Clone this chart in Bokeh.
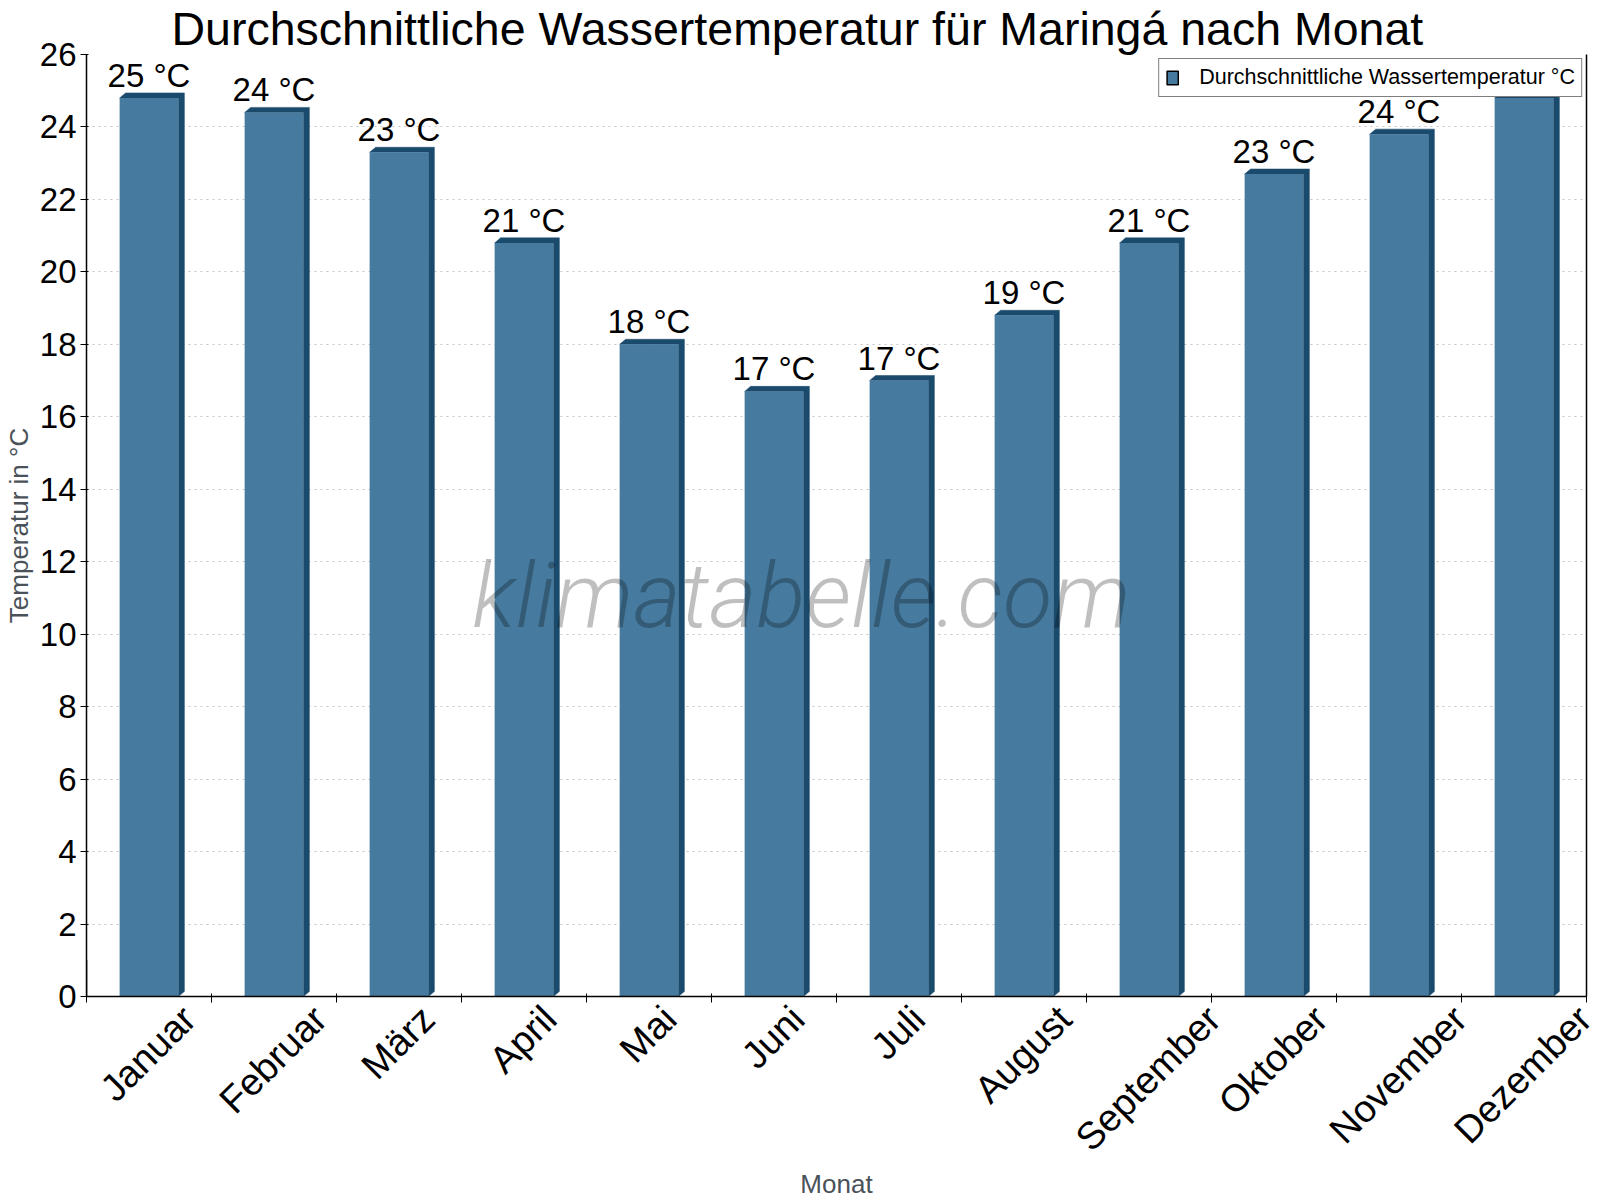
import math
import numpy as np
from bokeh.plotting import figure
from bokeh.models import Range1d, FixedTicker, LinearAxis, Legend, LegendItem, Label
from bokeh.core.properties import value
from bokeh.embed import file_html
from bokeh.resources import INLINE

# ---------------- data ----------------
months = ["Januar", "Februar", "März", "April", "Mai", "Juni",
          "Juli", "August", "September", "Oktober", "November", "Dezember"]
water_temp = [24.8, 24.4, 23.3, 20.8, 18.0, 16.7, 17.0, 18.8, 20.8, 22.7, 23.8, 24.8]
value_labels = ["25 °C", "24 °C", "23 °C", "21 °C", "18 °C", "17 °C",
                "17 °C", "19 °C", "21 °C", "23 °C", "24 °C", "25 °C"]
y_ticks = [0, 2, 4, 6, 8, 10, 12, 14, 16, 18, 20, 22, 24, 26]
y_max = 26
title_text = "Durchschnittliche Wassertemperatur für Maringá nach Monat"
series_name = "Durchschnittliche Wassertemperatur °C"
y_label = "Temperatur in °C"
x_label = "Monat"
watermark = "klimatabelle.com"

# ---------------- style ----------------
FRONT = "#467a9e"
DARK = "#1a4a6c"
FONT = "Liberation Sans"
AXIS_GREY = "#4a5259"
BAR_W = 0.47      # front face width (category units)
DX = 0.048        # 3D depth in x (category units)
DY = 0.14         # 3D depth in y (value units)
FRAME_W = 1500
FRAME_H = 942
XLABEL_PX = 38
# approximate glyph advance widths (per 1000 em) used to centre the rotated labels
GLYPH_W = {"a": 556, "b": 556, "e": 556, "g": 556, "i": 222, "k": 500, "l": 222,
           "m": 833, "n": 556, "o": 556, "p": 556, "r": 333, "s": 500, "t": 278,
           "u": 556, "v": 500, "z": 500, "ä": 556, "A": 667, "D": 722, "F": 611,
           "J": 500, "M": 833, "N": 722, "O": 778, "S": 667}

n = len(months)
centers = np.arange(n) + 0.5
vals = np.array(water_temp)
px_per_unit = FRAME_W / n

p = figure(frame_width=FRAME_W, frame_height=FRAME_H,
           x_range=Range1d(0, n), y_range=Range1d(0, y_max),
           output_backend="svg", toolbar_location=None,
           min_border_left=77, min_border_right=13, min_border_top=45,
           min_border_bottom=150,
           background_fill_color="white", border_fill_color="white")
p.outline_line_color = None

# title
p.title.text = title_text
p.title.align = "left"
p.title.offset = 85
p.title.text_font = FONT
p.title.text_font_size = "46.5px"
p.title.text_font_style = "normal"
p.title.text_color = "black"
p.title.standoff = 0

# 3D side + top faces
x0 = centers - BAR_W / 2
x1 = centers + BAR_W / 2
xs = [[b, b, a, a + DX, b + DX, b + DX] for a, b in zip(x0, x1)]
ys = [[0, v, v, v + DY, v + DY, DY] for v in vals]
p.patches(xs, ys, fill_color=DARK, line_color=DARK, line_width=0.5)
# front faces
front = p.vbar(x=centers, top=vals, bottom=0, width=BAR_W, fill_color=FRONT, line_color=None)

# value labels
p.text(x=centers, y=vals, text=value_labels, text_align="center",
       text_baseline="bottom", y_offset=-4,
       text_font=value(FONT), text_font_size="33px", text_color="black")

# watermark
p.add_layout(Label(x=5.72, y=9.6, text=watermark, text_font="Roboto Light",
                   text_font_style="italic", text_font_size="91px",
                   text_color="black", text_alpha=0.25,
                   text_align="center", text_baseline="bottom"))

# y axis
yax = p.yaxis[0]
yax.ticker = FixedTicker(ticks=y_ticks)
yax.major_label_text_font = FONT
yax.major_label_text_font_size = "33px"
yax.major_label_text_color = "black"
yax.major_label_standoff = 4
yax.major_tick_in = 2
yax.major_tick_out = 6
yax.major_tick_line_color = "black"
yax.minor_tick_line_color = None
yax.axis_line_color = "black"
yax.axis_line_width = 1.5
yax.axis_label = y_label
yax.axis_label_text_font = FONT
yax.axis_label_text_font_size = "26px"
yax.axis_label_text_font_style = "normal"
yax.axis_label_text_color = AXIS_GREY
yax.axis_label_standoff = 3

# x axis: category boundaries as (minor) ticks, month names as labels whose
# rotated boxes are centred on their category
boundaries = list(range(n + 1))
label_ticks = []
for c, m in zip(centers, months):
    text_px = sum(GLYPH_W.get(ch, 556) for ch in m) * XLABEL_PX / 1000.0
    label_ticks.append(float(c + (0.354 * text_px - 1) / px_per_unit))
xax = p.xaxis[0]
xax.ticker = FixedTicker(ticks=label_ticks, minor_ticks=boundaries)
xax.major_label_overrides = {t: m for t, m in zip(label_ticks, months)}
xax.major_label_orientation = math.pi / 4
xax.major_label_text_font = FONT
xax.major_label_text_font_size = f"{XLABEL_PX}px"
xax.major_label_text_color = "black"
xax.major_label_standoff = 10
xax.major_tick_in = 0
xax.major_tick_out = 0
xax.minor_tick_in = 3
xax.minor_tick_out = 6
xax.minor_tick_line_color = "black"
xax.axis_line_color = "black"
xax.axis_line_width = 1.5
xax.axis_label = x_label
xax.axis_label_text_font = FONT
xax.axis_label_text_font_size = "26px"
xax.axis_label_text_font_style = "normal"
xax.axis_label_text_color = AXIS_GREY
xax.axis_label_standoff = -8

# right border line
rax = LinearAxis(ticker=FixedTicker(ticks=[]), major_tick_in=0, major_tick_out=0,
                 minor_tick_in=0, minor_tick_out=0, axis_line_color="black",
                 axis_line_width=1.5, major_label_text_font_size="0px")
p.add_layout(rax, "right")

# grid
p.xgrid.visible = False
p.ygrid.grid_line_color = "#c4c4c4"
p.ygrid.grid_line_dash = "2 4"
p.ygrid.grid_line_width = 1

# legend swatch proxy (kept outside the visible x range)
swatch = p.vbar(x=[-1.0], top=[1.0], width=BAR_W, fill_color=FRONT,
                line_color="black", line_width=1.5)
legend = Legend(items=[LegendItem(label=series_name, renderers=[swatch])],
                location="top_right", margin=4, padding=6, spacing=0,
                glyph_width=14, glyph_height=17, label_height=17,
                label_standoff=20, label_text_font=FONT,
                label_text_font_size="21.5px", label_text_color="black",
                border_line_color="black", border_line_width=1.5,
                background_fill_color="white", background_fill_alpha=1.0)
p.add_layout(legend)

open("out.html", "w", encoding="utf-8").write(file_html(p, INLINE))
